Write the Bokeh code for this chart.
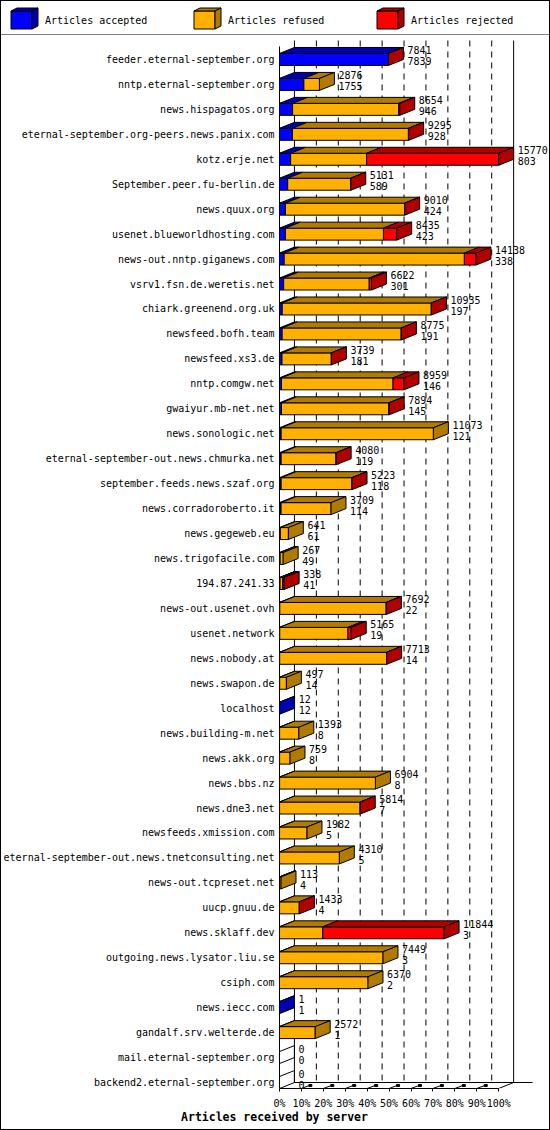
from bokeh.plotting import figure
from bokeh.models import Range1d, FixedTicker, PrintfTickFormatter, ColumnDataSource
from bokeh.layouts import column
from bokeh.embed import file_html
from bokeh.resources import INLINE
from bokeh.core.properties import value

# ---------------- data ----------------
servers = [
    "feeder.eternal-september.org", "nntp.eternal-september.org", "news.hispagatos.org",
    "eternal-september.org-peers.news.panix.com", "kotz.erje.net", "September.peer.fu-berlin.de",
    "news.quux.org", "usenet.blueworldhosting.com", "news-out.nntp.giganews.com",
    "vsrv1.fsn.de.weretis.net", "chiark.greenend.org.uk", "newsfeed.bofh.team",
    "newsfeed.xs3.de", "nntp.comgw.net", "gwaiyur.mb-net.net", "news.sonologic.net",
    "eternal-september-out.news.chmurka.net", "september.feeds.news.szaf.org",
    "news.corradoroberto.it", "news.gegeweb.eu", "news.trigofacile.com", "194.87.241.33",
    "news-out.usenet.ovh", "usenet.network", "news.nobody.at", "news.swapon.de", "localhost",
    "news.building-m.net", "news.akk.org", "news.bbs.nz", "news.dne3.net",
    "newsfeeds.xmission.com", "eternal-september-out.news.tnetconsulting.net",
    "news-out.tcpreset.net", "uucp.gnuu.de", "news.sklaff.dev", "outgoing.news.lysator.liu.se",
    "csiph.com", "news.iecc.com", "gandalf.srv.welterde.de", "mail.eternal-september.org",
    "backend2.eternal-september.org",
]
accepted = [7839, 1755, 946, 928, 803, 589, 424, 423, 338, 301, 197, 191, 181, 146, 145, 121,
            119, 118, 114, 61, 49, 41, 22, 19, 14, 14, 12, 8, 8, 8, 7, 5, 5, 4, 4, 3, 3, 2, 1,
            1, 0, 0]
refused = [0, 1121, 7638, 8347, 5462, 4527, 8571, 7057, 12964, 6156, 10723, 8564, 3548, 8023,
           7729, 10952, 3951, 5095, 3595, 580, 218, 197, 7655, 4906, 7689, 483, 0, 1385, 751,
           6896, 5797, 1977, 4305, 109, 1424, 3108, 7446, 6368, 0, 2571, 0, 0]
rejected = [2, 0, 70, 20, 9505, 15, 15, 955, 836, 165, 15, 20, 10, 790, 20, 0, 10, 10, 0, 0, 0,
            100, 15, 240, 10, 0, 0, 0, 0, 0, 10, 0, 0, 0, 5, 8733, 0, 0, 0, 0, 0, 0]

series_names = ["Articles accepted", "Articles refused", "Articles rejected"]
front_colors = ["#0000ff", "#ffb000", "#ff0000"]
dark_colors = ["#0000b0", "#b07b00", "#b00000"]
pct_ticks = [0, 10, 20, 30, 40, 50, 60, 70, 80, 90, 100]
x_title = "Articles received by server"

# ---------------- geometry (screen px) ----------------
FONT = "DejaVu Sans Mono"
FIG_W = 550
FIG_H = 1130
ROW_PX = 25          # vertical distance between rows
HALF_H = 6           # half height of a bar front face
DEPTH_X = 15         # 3D depth offset
DEPTH_Y = 6
LEFT_PANEL = 274     # room for server names
ZERO_PX = 4          # 0% sits this far inside the frame
PX100 = 220          # front width of 100 %
TOP_PAD = 24         # frame top above first row centre
BOTTOM_AXIS = 21
LEG_H = 35
n = len(servers)
FRAME_H = TOP_PAD + (n - 1) * ROW_PX + HALF_H
FRAME_W = FIG_W - LEFT_PANEL
T_H = FIG_H - LEG_H - (FRAME_H + BOTTOM_AXIS)

totals = [a + r + j for a, r, j in zip(accepted, refused, rejected)]
scale_max = max(totals)

px_x = 100.0 / PX100      # percent per px
px_y = 1.0 / ROW_PX       # rows per px
dxd = DEPTH_X * px_x
dyd = DEPTH_Y * px_y


def no_align(f):
    try:
        f.frame_align = False
    except Exception:
        pass


# ---------------- legend strip ----------------
leg = figure(width=FIG_W, height=LEG_H, x_range=Range1d(0, FIG_W), y_range=Range1d(LEG_H, 0),
             min_border=0, toolbar_location=None, output_backend="svg",
             x_axis_location=None, y_axis_location=None)
no_align(leg)
leg.grid.visible = False
leg.outline_line_color = None
leg.border_fill_color = None
leg.background_fill_color = None
lxs, lys, lfill = [], [], []
tx, ty = [], []
for j in range(3):
    x0 = 10.5 + j * 183
    x1 = x0 + 21
    yt, yb = 10.5, 28.5
    lxs += [[x0, x1, x1, x0], [x0, x0 + 6, x1 + 6, x1], [x1, x1 + 6, x1 + 6, x1]]
    lys += [[yt, yt, yb, yb], [yt, yt - 3, yt - 3, yt], [yt, yt - 3, yb - 3, yb]]
    lfill += [front_colors[j], dark_colors[j], dark_colors[j]]
    tx.append(x0 + 34)
    ty.append(20)
leg.patches(lxs, lys, fill_color=lfill, line_color="black", line_width=1)
leg.text(x=tx, y=ty, text=series_names, text_font=value(FONT), text_font_size="10px",
         text_baseline="middle", text_align="left", text_color="black")
leg.segment(x0=[0], y0=[LEG_H - 0.5], x1=[FIG_W], y1=[LEG_H - 0.5], line_color="black", line_width=1)

# ---------------- main chart ----------------
x_start = -ZERO_PX * px_x
x_end = (FRAME_W - ZERO_PX) * px_x
y_top = -TOP_PAD * px_y
y_bot = (n - 1) + HALF_H * px_y

p = figure(width=FIG_W, height=FRAME_H + BOTTOM_AXIS,
           x_range=Range1d(x_start, x_end), y_range=Range1d(y_bot, y_top),
           min_border_left=LEFT_PANEL, min_border_right=0, min_border_top=0,
           min_border_bottom=BOTTOM_AXIS, toolbar_location=None, output_backend="svg")
no_align(p)
p.grid.visible = False
p.outline_line_color = None
p.border_fill_color = None
p.background_fill_color = None

# axes
p.yaxis.ticker = FixedTicker(ticks=list(range(n)))
p.yaxis.major_label_overrides = {i: s for i, s in enumerate(servers)}
p.yaxis.axis_line_color = None
p.yaxis.major_tick_line_color = None
p.yaxis.minor_tick_line_color = None
p.yaxis.major_tick_in = 0
p.yaxis.major_tick_out = 0
p.yaxis.major_label_standoff = 1
p.yaxis.major_label_text_font = FONT
p.yaxis.major_label_text_font_size = "10px"
p.yaxis.major_label_text_color = "black"

p.xaxis.ticker = FixedTicker(ticks=pct_ticks)
p.xaxis.formatter = PrintfTickFormatter(format="%d%%")
p.xaxis.bounds = (0, 100)
p.xaxis.axis_line_color = "black"
p.xaxis.major_tick_in = 0
p.xaxis.major_tick_out = 3
p.xaxis.minor_tick_line_color = None
p.xaxis.major_label_standoff = 6
p.xaxis.major_label_text_font = FONT
p.xaxis.major_label_text_font_size = "10px"
p.xaxis.major_label_text_color = "black"

back_top = -(HALF_H + 13) * px_y   # top of back wall
front_top = back_top + dyd
back_floor = n - 1
front_floor = n - 1 + HALF_H * px_y

# back grid lines (dashed) and walls
grid_x = [t + dxd for t in pct_ticks[1:-1]]
p.segment(x0=grid_x, y0=[back_top] * len(grid_x), x1=grid_x, y1=[back_floor] * len(grid_x),
          line_color="black", line_width=1, line_dash="6 5")
p.segment(x0=[dxd, 100 + dxd, 0], y0=[back_top, back_top, front_top],
          x1=[dxd, 100 + dxd, 0], y1=[back_floor, back_floor, front_floor],
          line_color="black", line_width=1)
# floor
p.segment(x0=[dxd, 100], y0=[back_floor, front_floor],
          x1=[100 + dxd + 19 * px_x, 100 + dxd], y1=[back_floor, back_floor],
          line_color="black", line_width=1)
# small 3D tick marks
tk = pct_ticks[1:-1]
p.segment(x0=tk, y0=[front_floor] * len(tk), x1=[t + 8 * px_x for t in tk],
          y1=[front_floor - 3 * px_y] * len(tk), line_color="black", line_width=1)
p.rect(x=[t + 9 * px_x for t in tk], y=[front_floor - 3 * px_y] * len(tk), width=3, height=2,
       width_units="screen", height_units="screen", fill_color="black", line_color="black")

# bars
bxs, bys, bfill = [], [], []
zxs, zys = [], []
ends = []
for i in range(n):
    vals = [accepted[i], refused[i], rejected[i]]
    yt = i - HALF_H * px_y
    yb = i + HALF_H * px_y
    start = 0.0
    last = None
    for k, v in enumerate(vals):
        if v <= 0:
            continue
        x0 = start / scale_max * 100
        x1 = (start + v) / scale_max * 100
        bxs += [[x0, x1, x1, x0], [x0, x0 + dxd, x1 + dxd, x1]]
        bys += [[yt, yt, yb, yb], [yt, yt - dyd, yt - dyd, yt]]
        bfill += [front_colors[k], dark_colors[k]]
        start += v
        last = k
    xe = start / scale_max * 100
    ends.append(xe)
    sx = [xe, xe + dxd, xe + dxd, xe]
    sy = [yt, yt - dyd, yb - dyd, yb]
    if last is None:
        zxs.append(sx)
        zys.append(sy)
    else:
        bxs.append(sx)
        bys.append(sy)
        bfill.append(dark_colors[last])

if zxs:
    p.patches(zxs, zys, fill_color=None, line_color="black", line_width=1)
p.patches(bxs, bys, fill_color=bfill, line_color="black", line_width=1)

# value labels
src = ColumnDataSource(dict(x=ends, y=list(range(n)),
                            tot=[str(t) for t in totals], acc=[str(a) for a in accepted]))
p.text(x="x", y="y", text="tot", source=src, x_offset=DEPTH_X + 4, y_offset=-9,
       text_font=value(FONT), text_font_size="10px", text_baseline="middle",
       text_align="left", text_color="black")
p.text(x="x", y="y", text="acc", source=src, x_offset=DEPTH_X + 4, y_offset=2,
       text_font=value(FONT), text_font_size="10px", text_baseline="middle",
       text_align="left", text_color="black")

# ---------------- title strip ----------------
tf = figure(width=FIG_W, height=T_H, x_range=Range1d(0, FIG_W), y_range=Range1d(T_H, 0),
            min_border=0, toolbar_location=None, output_backend="svg",
            x_axis_location=None, y_axis_location=None)
no_align(tf)
tf.grid.visible = False
tf.outline_line_color = None
tf.border_fill_color = None
tf.background_fill_color = None
tf.text(x=[274], y=[5.5], text=[x_title], text_font=value(FONT), text_font_size="11.5px",
        text_font_style="bold", text_baseline="middle", text_align="center", text_color="black")

layout = column(leg, p, tf, spacing=0,
                styles={"box-shadow": "inset 0 0 0 1px #000000", "background": "white"})

open("out.html", "w").write(file_html(layout, INLINE))
